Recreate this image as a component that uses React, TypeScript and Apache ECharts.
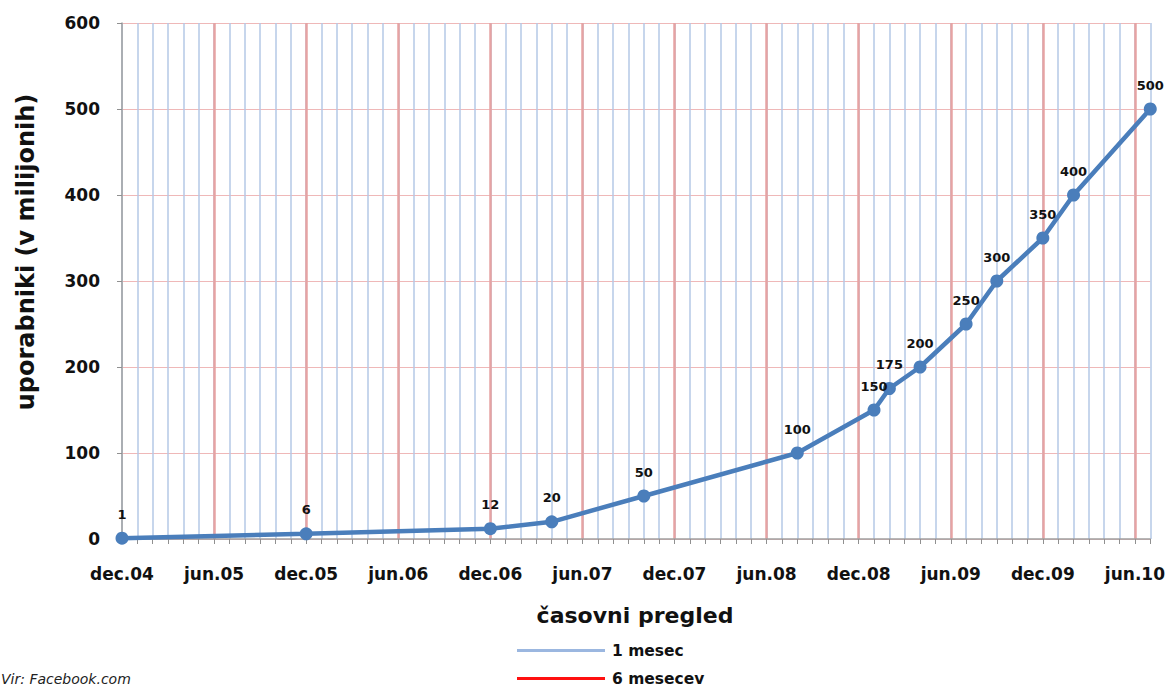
import React, { useEffect, useRef } from "react";
import * as echarts from "echarts";

const monthIndex = [0, 12, 24, 28, 34, 44, 49, 50, 52, 55, 57, 60, 62, 67];
const users = [1, 6, 12, 20, 50, 100, 150, 175, 200, 250, 300, 350, 400, 500];
const tickLabels = [
  "dec.04", "jun.05", "dec.05", "jun.06", "dec.06", "jun.07",
  "dec.07", "jun.08", "dec.08", "jun.09", "dec.09", "jun.10",
];
const legendNames = ["1 mesec", "6 mesecev"];

const FONT = "DejaVu Sans";

export default function App() {
  const ref = useRef<HTMLDivElement>(null);
  useEffect(() => {
    document.body.style.margin = "0";
    const chart = echarts.init(ref.current!, null, { renderer: "svg" });
    const data = monthIndex.map((m, i) => [m, users[i]]);
    const legendBase = {
      orient: "horizontal",
      left: 517,
      padding: 0,
      itemWidth: 88,
      itemHeight: 3,
      itemGap: 0,
      icon: "rect",
      textStyle: {
        fontFamily: FONT,
        fontWeight: "bold",
        fontSize: 15.5,
        lineHeight: 15,
        color: "#111",
        padding: [0, 0, 0, 2],
      },
    };
    chart.setOption({
      animation: false,
      backgroundColor: "#ffffff",
      textStyle: { fontFamily: FONT },
      grid: { left: 122, right: 16, top: 23, bottom: 147, containLabel: false },
      xAxis: [
        {
          type: "value",
          min: 0,
          max: 67,
          interval: 1,
          axisLine: { show: true, lineStyle: { color: "#a0a0a0", width: 1.5 } },
          axisTick: { show: true, length: 5, lineStyle: { color: "#909090" } },
          axisLabel: {
            margin: 26,
            fontFamily: FONT,
            fontWeight: "bold",
            fontSize: 17,
            color: "#111",
            formatter: (v: number) => (v % 6 === 0 ? tickLabels[v / 6] : ""),
          },
          splitLine: { show: true, lineStyle: { color: "#b4c9e6", width: 1.5 } },
        },
        {
          type: "value",
          min: 0,
          max: 67,
          interval: 6,
          position: "bottom",
          axisLine: { show: false },
          axisTick: { show: false },
          axisLabel: { show: false },
          splitLine: {
            show: true,
            showMinLine: false,
            showMaxLine: false,
            lineStyle: { color: "#e6a3a3", width: 2.5 },
          },
        },
      ],
      yAxis: {
        type: "value",
        min: 0,
        max: 600,
        interval: 100,
        axisLine: { show: true, lineStyle: { color: "#a0a0a0", width: 1.5 } },
        axisTick: { show: true, length: 5, lineStyle: { color: "#909090" } },
        axisLabel: {
          margin: 22,
          fontFamily: FONT,
          fontWeight: "bold",
          fontSize: 17,
          color: "#111",
        },
        splitLine: { show: true, lineStyle: { color: "#efb8b8", width: 1.2 } },
      },
      legend: [
        { ...legendBase, top: 642.5, data: [legendNames[0]] },
        { ...legendBase, top: 670.5, data: [legendNames[1]] },
      ],
      graphic: [
        {
          type: "text",
          x: 26,
          y: 252,
          rotation: Math.PI / 2,
          style: {
            text: "uporabniki (v milijonih)",
            fontFamily: FONT,
            fontWeight: "bold",
            fontSize: 24,
            fill: "#111",
            textAlign: "center",
            textVerticalAlign: "middle",
          },
        },
        {
          type: "text",
          x: 635,
          y: 615,
          style: {
            text: "časovni pregled",
            fontFamily: FONT,
            fontWeight: "bold",
            fontSize: 22,
            fill: "#111",
            textAlign: "center",
            textVerticalAlign: "middle",
          },
        },
        {
          type: "text",
          x: 1,
          y: 679,
          style: {
            text: "Vir: Facebook.com",
            fontFamily: FONT,
            fontStyle: "italic",
            fontSize: 14,
            fill: "#222",
            textAlign: "left",
            textVerticalAlign: "middle",
          },
        },
      ],
      series: [
        {
          type: "line",
          data,
          xAxisIndex: 0,
          color: "#4a7ebb",
          symbol: "circle",
          symbolSize: 13,
          lineStyle: { width: 4.5, color: "#4a7ebb" },
          itemStyle: { color: "#4a7ebb" },
          label: {
            show: true,
            position: "top",
            distance: 11,
            fontFamily: FONT,
            fontWeight: "bold",
            fontSize: 13,
            color: "#111",
            formatter: (p: any) => String(p.value[1]),
          },
          z: 5,
        },
        {
          name: legendNames[0],
          type: "line",
          data: [],
          color: "#9bb7e0",
          lineStyle: { color: "#9bb7e0" },
          itemStyle: { color: "#9bb7e0" },
        },
        {
          name: legendNames[1],
          type: "line",
          data: [],
          color: "#ff1010",
          lineStyle: { color: "#ff1010" },
          itemStyle: { color: "#ff1010" },
        },
      ],
    });
    return () => chart.dispose();
  }, []);
  return <div ref={ref} style={{ width: 1168, height: 686 }} />;
}
